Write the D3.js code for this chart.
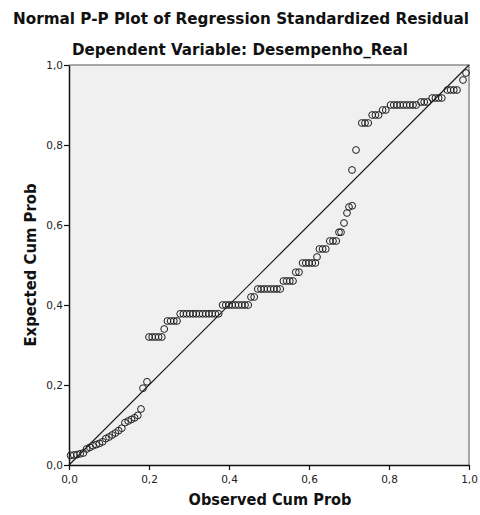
<!DOCTYPE html>
<html>
<head>
<meta charset="utf-8">
<script src="https://cdn.jsdelivr.net/npm/d3@7"></script>
<style>
  html, body { margin: 0; padding: 0; background: #ffffff; }
  svg { display: block; }
</style>
</head>
<body>
<svg id="chart" width="480" height="515"></svg>
<script>
const titleText = "Normal P-P Plot of Regression Standardized Residual";
const subtitleText = "Dependent Variable: Desempenho_Real";
const xAxisTitle = "Observed Cum Prob";
const yAxisTitle = "Expected Cum Prob";
const tickValues = [0, 0.2, 0.4, 0.6, 0.8, 1.0];
const tickLabels = ["0,0", "0,2", "0,4", "0,6", "0,8", "1,0"];

const observed = [
  0.004, 0.012, 0.020, 0.028, 0.036,
  0.044, 0.052, 0.060, 0.068, 0.076, 0.084,
  0.092, 0.100, 0.108, 0.116, 0.124, 0.132,
  0.140, 0.148, 0.156, 0.164, 0.172,
  0.180, 0.185, 0.195,
  0.200, 0.208, 0.216, 0.224, 0.232,
  0.238,
  0.246, 0.254, 0.262, 0.270,
  0.278, 0.286, 0.294, 0.302, 0.310, 0.318, 0.326, 0.334, 0.342, 0.350, 0.358, 0.366, 0.374,
  0.384, 0.392, 0.400, 0.408, 0.416, 0.424, 0.432, 0.440, 0.448,
  0.455, 0.463,
  0.472, 0.480, 0.488, 0.496, 0.504, 0.512, 0.520, 0.528,
  0.536, 0.544, 0.552, 0.560,
  0.567, 0.575,
  0.584, 0.592, 0.600, 0.608, 0.616,
  0.620,
  0.626, 0.634, 0.642,
  0.652, 0.660, 0.668,
  0.675, 0.680,
  0.6875, 0.695, 0.700, 0.708,
  0.7075, 0.7175,
  0.732, 0.740, 0.748,
  0.758, 0.766, 0.774,
  0.784, 0.792,
  0.804, 0.812, 0.820, 0.828, 0.836, 0.844, 0.852, 0.860, 0.868,
  0.880, 0.888, 0.896,
  0.908, 0.916, 0.924, 0.932,
  0.946, 0.954, 0.962, 0.970,
  0.985, 0.9925
];
const expected = [
  0.024, 0.025, 0.026, 0.028, 0.030,
  0.040, 0.044, 0.048, 0.051, 0.054, 0.058,
  0.066, 0.070, 0.075, 0.080, 0.086, 0.092,
  0.106, 0.110, 0.114, 0.118, 0.124,
  0.140, 0.192, 0.208,
  0.320, 0.320, 0.320, 0.320, 0.320,
  0.340,
  0.360, 0.360, 0.360, 0.360,
  0.378, 0.378, 0.378, 0.378, 0.378, 0.378, 0.378, 0.378, 0.378, 0.378, 0.378, 0.378, 0.378,
  0.400, 0.400, 0.400, 0.400, 0.400, 0.400, 0.400, 0.400, 0.400,
  0.420, 0.420,
  0.440, 0.440, 0.440, 0.440, 0.440, 0.440, 0.440, 0.440,
  0.460, 0.460, 0.460, 0.460,
  0.482, 0.482,
  0.505, 0.505, 0.505, 0.505, 0.505,
  0.520,
  0.540, 0.540, 0.540,
  0.560, 0.560, 0.560,
  0.582, 0.582,
  0.605, 0.630, 0.645, 0.648,
  0.7375, 0.7875,
  0.855, 0.855, 0.855,
  0.875, 0.875, 0.875,
  0.8875, 0.8875,
  0.900, 0.900, 0.900, 0.900, 0.900, 0.900, 0.900, 0.900, 0.900,
  0.9075, 0.9075, 0.9075,
  0.9175, 0.9175, 0.9175, 0.9175,
  0.9375, 0.9375, 0.9375, 0.9375,
  0.9625, 0.980
];

const points = observed.map((o, i) => ({ o, e: expected[i] }));

const svg = d3.select("#chart");
const plotLeft = 69, plotRight = 469, plotTop = 65, plotBottom = 465;

const x = d3.scaleLinear().domain([0, 1]).range([plotLeft, plotRight]);
const y = d3.scaleLinear().domain([0, 1]).range([plotBottom, plotTop]);

// plot background
svg.append("rect")
  .attr("x", plotLeft).attr("y", plotTop)
  .attr("width", plotRight - plotLeft).attr("height", plotBottom - plotTop)
  .attr("fill", "#f0f0f0");

// top & right frame
svg.append("path")
  .attr("d", `M${plotLeft},${plotTop}H${plotRight}V${plotBottom}`)
  .attr("fill", "none").attr("stroke", "#8c8c8c").attr("stroke-width", 1.5);

// diagonal reference line
svg.append("line")
  .attr("x1", x(0)).attr("y1", y(0))
  .attr("x2", x(1)).attr("y2", y(1))
  .attr("stroke", "#1a1a1a").attr("stroke-width", 1.2);

// points
svg.append("g").selectAll("circle")
  .data(points).enter().append("circle")
  .attr("cx", d => x(d.o))
  .attr("cy", d => y(d.e))
  .attr("r", 3.4)
  .attr("fill", "none")
  .attr("stroke", "#1e1e1e")
  .attr("stroke-width", 1);

const fmt = d => tickLabels[tickValues.indexOf(d)];

// x axis
const xAxis = svg.append("g")
  .attr("transform", `translate(0,${plotBottom})`)
  .call(d3.axisBottom(x).tickValues(tickValues).tickFormat(fmt).tickSize(5).tickSizeOuter(0));
// y axis
const yAxis = svg.append("g")
  .attr("transform", `translate(${plotLeft},0)`)
  .call(d3.axisLeft(y).tickValues(tickValues).tickFormat(fmt).tickSize(5).tickSizeOuter(0));

[xAxis, yAxis].forEach(g => {
  g.select(".domain").attr("stroke", "#111").attr("stroke-width", 1.5);
  g.selectAll(".tick line").attr("stroke", "#111").attr("stroke-width", 1.2);
  g.selectAll(".tick text")
    .attr("font-family", "DejaVu Sans, sans-serif")
    .attr("font-size", 10.5)
    .attr("fill", "#222");
});
xAxis.selectAll(".tick text").attr("dy", "0.95em");
yAxis.selectAll(".tick text").attr("x", -6);

// titles
svg.append("text")
  .attr("x", 241).attr("y", 24)
  .attr("text-anchor", "middle")
  .attr("font-family", "DejaVu Sans, sans-serif")
  .attr("font-weight", "bold").attr("font-size", 15)
  .attr("textLength", 456).attr("lengthAdjust", "spacingAndGlyphs")
  .attr("fill", "#111")
  .text(titleText);

svg.append("text")
  .attr("x", 240).attr("y", 55)
  .attr("text-anchor", "middle")
  .attr("font-family", "DejaVu Sans, sans-serif")
  .attr("font-weight", "bold").attr("font-size", 15)
  .attr("textLength", 336).attr("lengthAdjust", "spacingAndGlyphs")
  .attr("fill", "#111")
  .text(subtitleText);

svg.append("text")
  .attr("x", 270).attr("y", 505)
  .attr("text-anchor", "middle")
  .attr("font-family", "DejaVu Sans, sans-serif")
  .attr("font-weight", "bold").attr("font-size", 15)
  .attr("textLength", 163).attr("lengthAdjust", "spacingAndGlyphs")
  .attr("fill", "#111")
  .text(xAxisTitle);

svg.append("text")
  .attr("transform", "translate(36,265) rotate(-90)")
  .attr("text-anchor", "middle")
  .attr("font-family", "DejaVu Sans, sans-serif")
  .attr("font-weight", "bold").attr("font-size", 15)
  .attr("textLength", 163).attr("lengthAdjust", "spacingAndGlyphs")
  .attr("fill", "#111")
  .text(yAxisTitle);
</script>
</body>
</html>
